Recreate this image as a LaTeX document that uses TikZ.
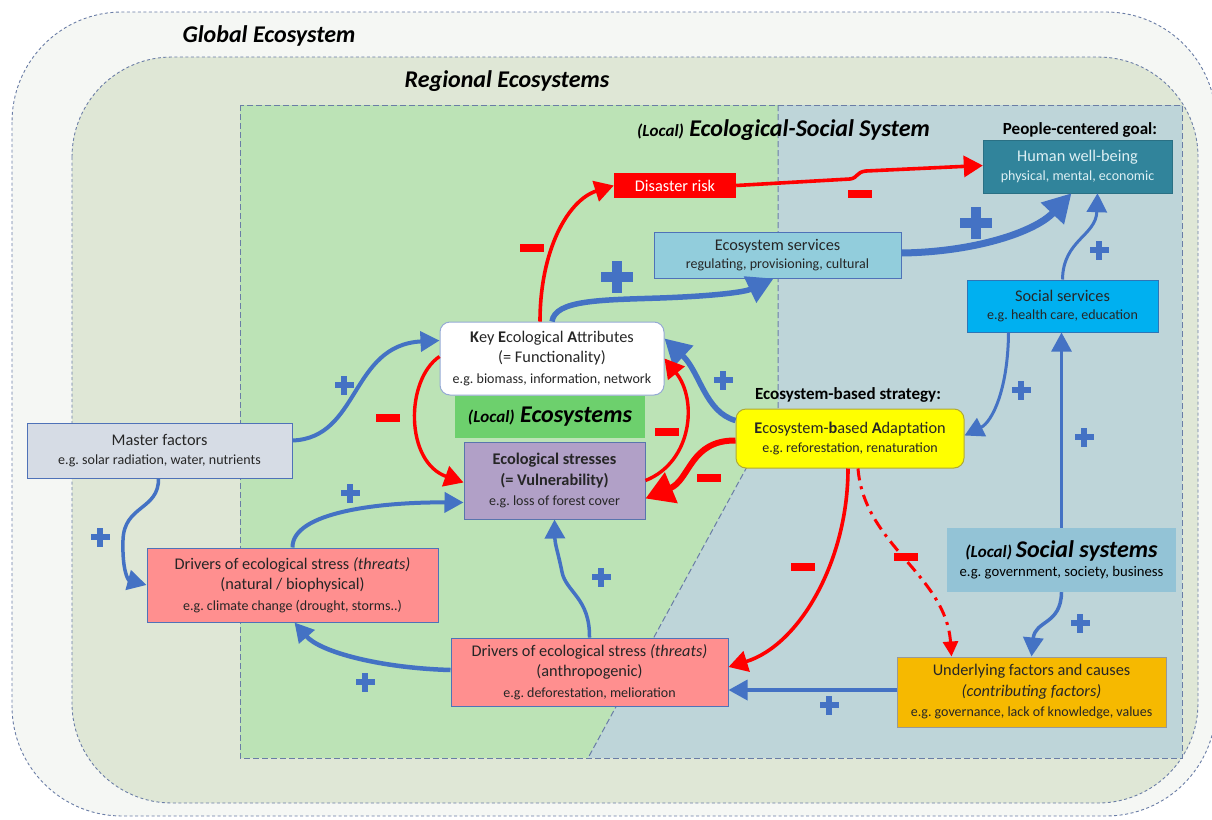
\documentclass[tikz,border=0pt]{standalone}
\usepackage{fontspec}
\setmainfont{Carlito}
\usetikzlibrary{arrows.meta,calc}
\definecolor{globfill}{HTML}{F5F7F4}
\definecolor{regfill}{HTML}{DFE7D6}
\definecolor{greenfill}{HTML}{BCE3B6}
\definecolor{bluefill}{HTML}{BED5D9}
\definecolor{dashc}{HTML}{6A7DA6}
\definecolor{arrblue}{HTML}{4472C4}
\definecolor{arrred}{HTML}{FF0000}
\definecolor{hwbfill}{HTML}{31849B}
\definecolor{hwbtext}{HTML}{DCEFF3}
\definecolor{esfill}{HTML}{92CDDC}
\definecolor{ssfill}{HTML}{00B0F0}
\definecolor{ssline}{HTML}{2E75B6}
\definecolor{lecofill}{HTML}{6DD06D}
\definecolor{estfill}{HTML}{B1A0C7}
\definecolor{ebafill}{HTML}{FFFF00}
\definecolor{mffill}{HTML}{D6DCE5}
\definecolor{drvfill}{HTML}{FF8F8F}
\definecolor{lssfill}{HTML}{93C3D6}
\definecolor{uffill}{HTML}{F6B900}
\definecolor{boxline}{HTML}{4F72B8}
\definecolor{txt}{HTML}{262626}
\newcommand\mainsz{\fontsize{16.3}{20.5}\selectfont}
\newcommand\subsz{\fontsize{14}{18}\selectfont}
\newcommand\locsz{\fontsize{17}{20}\selectfont}
\begin{document}
\begin{tikzpicture}[x=1pt,y=-1pt,
  region/.style={draw=dashc, line width=0.9pt, dash pattern=on 3pt off 2.5pt},
  essline/.style={draw=dashc, line width=1pt, dash pattern=on 6pt off 3pt},
  title/.style={font=\fontsize{24}{28}\selectfont\bfseries\itshape, inner sep=0pt, text=black},
  label/.style={font=\fontsize{17}{20}\selectfont\bfseries, inner sep=0pt, text=black},
  box/.style={align=center, inner sep=0pt, text=txt, font=\mainsz},
  barrow/.style={draw=arrblue, line width=4pt, -{Triangle[length=19pt,width=20pt]}},
  rarrow/.style={draw=arrred, line width=3.6pt, -{Triangle[length=19pt,width=21pt]}},
  pplus/.pic={\fill[arrblue] (-9.5,-3) rectangle (9.5,3); \fill[arrblue] (-3,-9.5) rectangle (3,9.5);},
  bigplus/.pic={\fill[arrblue] (-16,-5) rectangle (16,5); \fill[arrblue] (-5,-16) rectangle (5,16);},
  pminus/.pic={\fill[arrred] (-12,-4) rectangle (12,4);}
]
\useasboundingbox (0,0) rectangle (1212,819);
\fill[white] (0,0) rectangle (1212,819);
% containers
\draw[region, fill=globfill, rounded corners=110] (12,12) rectangle (1216,816);
\draw[region, fill=regfill, rounded corners=100] (72,57) rectangle (1198,803);
\fill[greenfill] (240,105) -- (778,105) -- (778,410) -- (588,758) -- (240,758) -- cycle;
\fill[bluefill] (778,105) -- (1182,105) -- (1182,758) -- (588,758) -- (778,410) -- cycle;
\draw[essline] (240,105) rectangle (1182,758);
\draw[essline] (778,105) -- (778,410) -- (588,758);

% titles
\node[title] (tglob) at (269,36) {Global Ecosystem};
\node[title] (treg) at (507,81) {Regional Ecosystems};
\node[title, anchor=east] (tess) at (930,130) {{\locsz(Local)} Ecological-Social System};
\node[label] (pcg) at (1080,130) {People-centered goal:};
\node[label] (ebs) at (848,395) {Ecosystem-based strategy:};

% nodes
\node[box, fill=arrred, text=white, minimum width=122, minimum height=25] (dr) at (675,185.5) {Disaster risk};
\node[box, fill=hwbfill, draw=hwbfill!85!black, text=hwbtext, minimum width=189, minimum height=53] (hwb) at (1077.5,166.5) {Human well-being\\[-2pt]{\subsz physical, mental, economic}};
\node[box, fill=esfill, draw=boxline, line width=1pt, minimum width=247, minimum height=46] (es) at (777.5,255) {Ecosystem services\\[-2pt]{\subsz regulating, provisioning, cultural}};
\node[box, fill=ssfill, draw=ssline, line width=1pt, minimum width=191, minimum height=52] (ss) at (1062.5,306) {Social services\\[-2pt]{\subsz e.g.\ health care, education}};
\node[box, fill=white, draw=boxline!60, line width=1pt, rounded corners=10, minimum width=224, minimum height=73] (kea) at (552,358.5) {\textbf{K}ey \textbf{E}cological \textbf{A}ttributes\\(= Functionality)\\{\subsz e.g.\ biomass, information, network}};
\node[box, fill=lecofill, minimum width=190, minimum height=42, font=\fontsize{24}{28}\selectfont\bfseries\itshape, text=black] (leco) at (550,417) {{\locsz(Local)} Ecosystems};
\node[box, fill=estfill, draw=boxline!80!gray, line width=1pt, minimum width=181, minimum height=77] (est) at (554.5,480.5) {\textbf{Ecological stresses}\\\textbf{(= Vulnerability)}\\{\subsz e.g.\ loss of forest cover}};
\node[box, fill=ebafill, draw=olive!70, line width=1pt, rounded corners=10, minimum width=228, minimum height=59] (eba) at (850,438.5) {\textbf{E}cosystem-\textbf{b}ased \textbf{A}daptation\\[-2pt]{\subsz e.g.\ reforestation, renaturation}};
\node[box, fill=mffill, draw=boxline, line width=1pt, minimum width=265, minimum height=55] (mf) at (159.5,450.5) {Master factors\\[-1pt]{\subsz e.g.\ solar radiation, water, nutrients}};
\node[box, fill=drvfill, draw=boxline, line width=1pt, minimum width=291, minimum height=74] (dn) at (292.5,585) {Drivers of ecological stress \textit{(threats)}\\(natural / biophysical)\\{\subsz e.g.\ climate change (drought, storms..)}};
\node[box, fill=drvfill, draw=boxline, line width=1pt, minimum width=277, minimum height=68] (da) at (589.5,672) {Drivers of ecological stress \textit{(threats)}\\(anthropogenic)\\{\subsz e.g.\ deforestation, melioration}};
\node[box, fill=lssfill, minimum width=229, minimum height=64, text=black] (lss) at (1061.5,560) {{\bfseries\itshape{\locsz(Local)} \fontsize{24}{26}\selectfont Social systems}\\[-1pt]{\fontsize{14.7}{18}\selectfont e.g.\ government, society, business}};
\node[box, fill=uffill, draw=gray!80, line width=1pt, minimum width=269, minimum height=70] (uf) at (1031.5,692) {Underlying factors and causes\\\textit{(contributing factors)}\\{\subsz e.g.\ governance, lack of knowledge, values}};

% blue arrows
\draw[barrow] ($(mf.east)+(0,-10)$) .. controls (360,438) and (350,345) .. ($(kea.west)+(0,-18)$);
\draw[barrow, line width=3.5pt] ($(mf.south)+(-1,0)$) .. controls (159,510) and (124,505) .. (123,540) .. controls (122,570) and (128,580) .. (dn.west);
\draw[barrow] ($(dn.north)+(0,0)$) .. controls (292,512) and (380,502) .. ($(est.west)+(0,22)$);
\draw[barrow, line width=3.5pt] (da.north) .. controls (590,598) and (566,592) .. (562,572) .. controls (558,552) and (555,545) .. (est.south);
\draw[barrow, line width=4.5pt] ($(da.west)+(0,-2)$) .. controls (380,668) and (320,652) .. ($(dn.south)+(2,0)$);
\draw[barrow, line width=3.5pt] ($(uf.west)+(0,-2)$) -- ($(da.east)+(0,18)$);
\draw[barrow, line width=5.5pt, -{Triangle[length=26pt,width=28pt]}] (kea.north) .. controls (555,300) and (600,300) .. (660,298) .. controls (715,296) and (745,292) .. ($(es.south)+(-4,0)$);
\draw[barrow, line width=7pt, -{Triangle[length=28pt,width=30pt]}] ($(es.east)+(0,-2)$) .. controls (975,252) and (1035,232) .. ($(hwb.south)+(-6,0)$);
\draw[barrow, line width=3pt] (ss.north) .. controls (1063,240) and (1096,236) .. ($(hwb.south)+(20,0)$);
\draw[barrow, line width=3pt] ($(ss.south)+(-54,0)$) .. controls (1008,390) and (992,422) .. ($(eba.east)+(0,-3)$);
\draw[barrow, line width=2.8pt] (lss.north) -- (lss.north |- ss.south);
\draw[barrow, line width=3.5pt] (lss.south) .. controls (1061,625) and (1035,620) .. (uf.north);
\draw[barrow, line width=5.5pt, -{Triangle[length=26pt,width=28pt]}] ($(eba.west)+(0,-18)$) .. controls (705,412) and (700,372) .. ($(kea.east)+(0,-20)$);

% red arrows
\draw[rarrow] ($(kea.north)+(-12,0)$) .. controls (540,250) and (568,200) .. (dr.west);
\draw[rarrow] (dr.east) -- (850,179) .. controls (858,178) and (856,172) .. (866,171) -- ($(hwb.west)+(0,-1)$);
\draw[rarrow, line width=3.4pt] ($(kea.west)+(0,-2)$) .. controls (405,380) and (405,462) .. ($(est.west)+(0,2)$);
\draw[rarrow, line width=3.4pt] (est.east) .. controls (692,462) and (698,400) .. (kea.east);
\draw[rarrow, line width=6pt, -{Triangle[length=28pt,width=32pt]}] ($(eba.west)+(0,2)$) .. controls (690,440) and (690,480) .. ($(est.east)+(0,18)$);
\draw[rarrow] ($(eba.south)+(-2,0)$) .. controls (848,560) and (800,645) .. ($(da.east)+(0,-5)$);
\draw[rarrow, line width=3pt, dash pattern=on 12pt off 6pt on 3pt off 6pt, -{Triangle[length=15pt,width=15pt]}] ($(eba.south)+(8,0)$) .. controls (864,545) and (946,575) .. ($(uf.north west)+(55,0)$);

% signs
\pic at (344,385) {pplus};
\pic at (100,537) {pplus};
\pic at (350,493) {pplus};
\pic at (601,577) {pplus};
\pic at (365,682) {pplus};
\pic at (829,705) {pplus};
\pic at (1099,250) {pplus};
\pic at (1021,390) {pplus};
\pic at (1084,437) {pplus};
\pic at (1080,623) {pplus};
\pic at (723,380) {pplus};
\pic at (617,277) {bigplus};
\pic at (976,223) {bigplus};
\pic at (532,248) {pminus};
\pic at (860,194) {pminus};
\pic at (388,418) {pminus};
\pic at (667,432) {pminus};
\pic at (709,478) {pminus};
\pic at (803,567) {pminus};
\pic at (906,557) {pminus};
\end{tikzpicture}
\end{document}
